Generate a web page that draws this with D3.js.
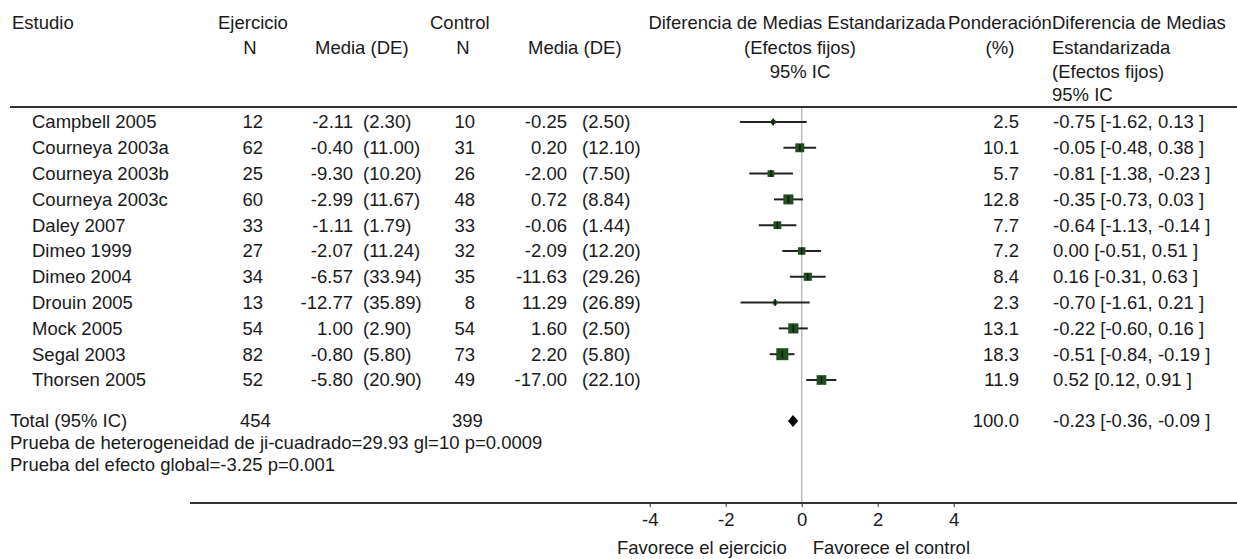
<!DOCTYPE html>
<html>
<head>
<meta charset="utf-8">
<script src="https://cdn.jsdelivr.net/npm/d3@7"></script>
<style>
  body { margin: 0; background: #fff; }
  svg { display: block; font-family: "Liberation Sans", Arial, sans-serif; }
  text { fill: #1a1a1a; font-size: 18.5px; }
</style>
</head>
<body>
<svg width="1237" height="559"></svg>
<script>
const studies = ["Campbell 2005", "Courneya 2003a", "Courneya 2003b", "Courneya 2003c", "Daley 2007",
  "Dimeo 1999", "Dimeo 2004", "Drouin 2005", "Mock 2005", "Segal 2003", "Thorsen 2005"];
const exN = [12, 62, 25, 60, 33, 27, 34, 13, 54, 82, 52];
const exMean = [-2.11, -0.40, -9.30, -2.99, -1.11, -2.07, -6.57, -12.77, 1.00, -0.80, -5.80];
const exSD = [2.30, 11.00, 10.20, 11.67, 1.79, 11.24, 33.94, 35.89, 2.90, 5.80, 20.90];
const ctN = [10, 31, 26, 48, 33, 32, 35, 8, 54, 73, 49];
const ctMean = [-0.25, 0.20, -2.00, 0.72, -0.06, -2.09, -11.63, 11.29, 1.60, 2.20, -17.00];
const ctSD = [2.50, 12.10, 7.50, 8.84, 1.44, 12.20, 29.26, 26.89, 2.50, 5.80, 22.10];
const weight = [2.5, 10.1, 5.7, 12.8, 7.7, 7.2, 8.4, 2.3, 13.1, 18.3, 11.9];
const smd = [-0.75, -0.05, -0.81, -0.35, -0.64, 0.00, 0.16, -0.70, -0.22, -0.51, 0.52];
const ciLow = [-1.62, -0.48, -1.38, -0.73, -1.13, -0.51, -0.31, -1.61, -0.60, -0.84, 0.12];
const ciHigh = [0.13, 0.38, -0.23, 0.03, -0.14, 0.51, 0.63, 0.21, 0.16, -0.19, 0.91];

const totalExN = 454, totalCtN = 399, totalWeight = 100.0;
const totalSmd = -0.23, totalLow = -0.36, totalHigh = -0.09;
const hetText = "Prueba de heterogeneidad de ji-cuadrado=29.93 gl=10 p=0.0009";
const overallText = "Prueba del efecto global=-3.25 p=0.001";
const axisTicks = [-4, -2, 0, 2, 4];

const svg = d3.select("svg");
const fmt = v => v.toFixed(2);   // plain hyphen minus, as in the original

const x = d3.scaleLinear().domain([-4, 4]).range([649.7, 953.7]);
const y = d3.scalePoint().domain(studies).range([122, 380]);
const size = d3.scaleSqrt().domain([0, 18.3]).range([0, 12]);

const totalY = 421;
const axisY = 503;
const dy = "0.35em";

// header
const header = [
  ["Estudio", 12, 23, "start"],
  ["Ejercicio", 218, 23, "start"],
  ["N", 250, 48, "middle"],
  ["Media (DE)", 315, 48, "start"],
  ["Control", 430, 23, "start"],
  ["N", 463, 48, "middle"],
  ["Media (DE)", 528, 48, "start"],
  ["Diferencia de Medias Estandarizada", 797, 23, "middle"],
  ["(Efectos fijos)", 800, 48, "middle"],
  ["95% IC", 800, 72, "middle"],
  ["Ponderación", 948, 23, "start"],
  ["(%)", 1000, 48, "middle"],
  ["Diferencia de Medias", 1052, 23, "start"],
  ["Estandarizada", 1052, 48, "start"],
  ["(Efectos fijos)", 1052, 72, "start"],
  ["95% IC", 1052, 95, "start"]
];
svg.append("g").selectAll("text")
  .data(header)
  .join("text")
  .attr("x", d => d[1]).attr("y", d => d[2]).attr("dy", dy)
  .attr("text-anchor", d => d[3])
  .text(d => d[0]);

svg.append("line")
  .attr("x1", 10).attr("x2", 1237).attr("y1", 107).attr("y2", 107)
  .attr("stroke", "#333").attr("stroke-width", 2);

// zero line
svg.append("line")
  .attr("x1", x(0)).attr("x2", x(0)).attr("y1", 108).attr("y2", axisY)
  .attr("stroke", "#bbb").attr("stroke-width", 1.5);

// study rows
const rows = svg.append("g").selectAll("g")
  .data(studies)
  .join("g")
  .attr("transform", d => `translate(0,${y(d)})`);

const cols = [
  [(d, i) => d, 32, "start"],
  [(d, i) => exN[i], 263, "end"],
  [(d, i) => fmt(exMean[i]), 353, "end"],
  [(d, i) => `(${fmt(exSD[i])})`, 363, "start"],
  [(d, i) => ctN[i], 475, "end"],
  [(d, i) => fmt(ctMean[i]), 567, "end"],
  [(d, i) => `(${fmt(ctSD[i])})`, 582, "start"],
  [(d, i) => weight[i].toFixed(1), 1019, "end"],
  [(d, i) => `${fmt(smd[i])} [${fmt(ciLow[i])}, ${fmt(ciHigh[i])} ]`, 1053, "start"]
];
cols.forEach(([val, cx, anchor]) => {
  rows.append("text")
    .attr("x", cx).attr("dy", dy)
    .attr("text-anchor", anchor)
    .text((d, i) => val(d, i));
});

// CI lines and squares
rows.append("line")
  .attr("x1", (d, i) => x(ciLow[i])).attr("x2", (d, i) => x(ciHigh[i]))
  .attr("stroke", "#222").attr("stroke-width", 2);
rows.append("rect")
  .attr("x", (d, i) => x(smd[i]) - size(weight[i]) / 2)
  .attr("y", (d, i) => -size(weight[i]) / 2)
  .attr("width", (d, i) => size(weight[i]))
  .attr("height", (d, i) => size(weight[i]))
  .attr("fill", "#1f4f1f");
rows.append("line")
  .attr("x1", (d, i) => x(smd[i])).attr("x2", (d, i) => x(smd[i]))
  .attr("y1", -3.5).attr("y2", 3.5)
  .attr("stroke", "#111").attr("stroke-width", 1.5);

// total row
const tot = svg.append("g").attr("transform", `translate(0,${totalY})`);
tot.append("text").attr("x", 10).attr("dy", dy).text("Total (95% IC)");
tot.append("text").attr("x", 240).attr("dy", dy).text(totalExN);
tot.append("text").attr("x", 452).attr("dy", dy).text(totalCtN);
tot.append("text").attr("x", 1019).attr("dy", dy).attr("text-anchor", "end").text(totalWeight.toFixed(1));
tot.append("text").attr("x", 1053).attr("dy", dy)
  .text(`${fmt(totalSmd)} [${fmt(totalLow)}, ${fmt(totalHigh)} ]`);
tot.append("path")
  .attr("d", `M${x(totalLow)},0 L${x(totalSmd)},-6 L${x(totalHigh)},0 L${x(totalSmd)},6 Z`)
  .attr("fill", "#000");

svg.append("text").attr("x", 10).attr("y", 443).attr("dy", dy).text(hetText);
svg.append("text").attr("x", 10).attr("y", 465).attr("dy", dy).text(overallText);

// axis
svg.append("line")
  .attr("x1", 190).attr("x2", 1237).attr("y1", axisY).attr("y2", axisY)
  .attr("stroke", "#333").attr("stroke-width", 2);

const axis = svg.append("g")
  .attr("transform", `translate(0,${axisY})`)
  .call(d3.axisBottom(x).tickValues(axisTicks).tickSize(4).tickPadding(6).tickFormat(d => String(d)));
axis.select(".domain").remove();
axis.selectAll("line").attr("stroke", "#333");
axis.selectAll("text").attr("font-size", "18.5px").attr("font-family", "Liberation Sans, Arial, sans-serif").attr("fill", "#1a1a1a");

svg.append("text").attr("x", x(0) - 15).attr("y", 548).attr("dy", dy)
  .attr("text-anchor", "end").text("Favorece el ejercicio");
svg.append("text").attr("x", x(0) + 11).attr("y", 548).attr("dy", dy)
  .attr("text-anchor", "start").text("Favorece el control");
</script>
</body>
</html>
